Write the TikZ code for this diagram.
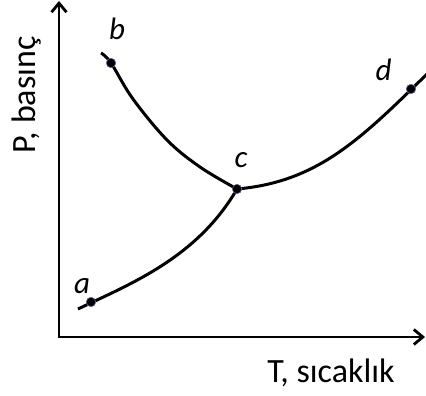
\documentclass[tikz,border=0pt]{standalone}
\usepackage{fontspec}
\setmainfont{Carlito}
\usetikzlibrary{arrows.meta}
\tikzset{
  axisline/.style={line width=2.8pt, {Straight Barb[length=9pt,width=15pt,line width=2.8pt]}-{Straight Barb[length=9pt,width=15pt,line width=2.8pt]}},
  curveline/.style={line width=3pt, line cap=butt},
  ptdot/.style={circle, fill=black, draw=black!60!blue!60, line width=0.6pt, inner sep=0pt, minimum size=9.5pt},
  ptlabel/.style={font=\fontsize{31}{31}\selectfont\itshape, inner sep=0pt, anchor=base},
  axlabel/.style={font=\fontsize{34}{34}\selectfont, inner sep=0pt, anchor=base}
}
\begin{document}
\begin{tikzpicture}[x=1pt,y=-1pt]
\useasboundingbox (0,0) rectangle (426,396);
% axes
\coordinate (ytop) at (59,1);
\coordinate (origin) at (59,337);
\coordinate (xend) at (425,337);
\draw[axisline] (ytop) -- (origin) -- (xend);
% point coordinates
\coordinate (bs) at (101,53);
\coordinate (b) at (111,63);
\coordinate (c) at (237,189);
\coordinate (d) at (411,89);
\coordinate (de) at (428,73);
\coordinate (as) at (78,309);
\coordinate (a) at (91,302);
% curves
\draw[curveline] plot[smooth, tension=0.6] coordinates {(bs) (b) (133,99) (167,140) (200,167) (c)};
\draw[curveline] (as) .. controls (130,284) and (197,258) .. (c);
\draw[curveline] (c) .. controls (317,182) and (360,140) .. (de);
% dots
\node[ptdot] (nb) at (b) {};
\node[ptdot] (nc) at (c) {};
\node[ptdot] (nd) at (d) {};
\node[ptdot] (na) at (a) {};
% labels
\node[ptlabel] (lb) at (117,40) {b};
\node[ptlabel] (lc) at (241,167) {c};
\node[ptlabel] (ld) at (383.5,81) {d};
\node[ptlabel] (la) at (82,293) {a};
\node[axlabel] (lt) at (331,382) {T, sıcaklık};
\node[axlabel, rotate=90] (lp) at (35,95) {P, basınç};
\end{tikzpicture}
\end{document}
